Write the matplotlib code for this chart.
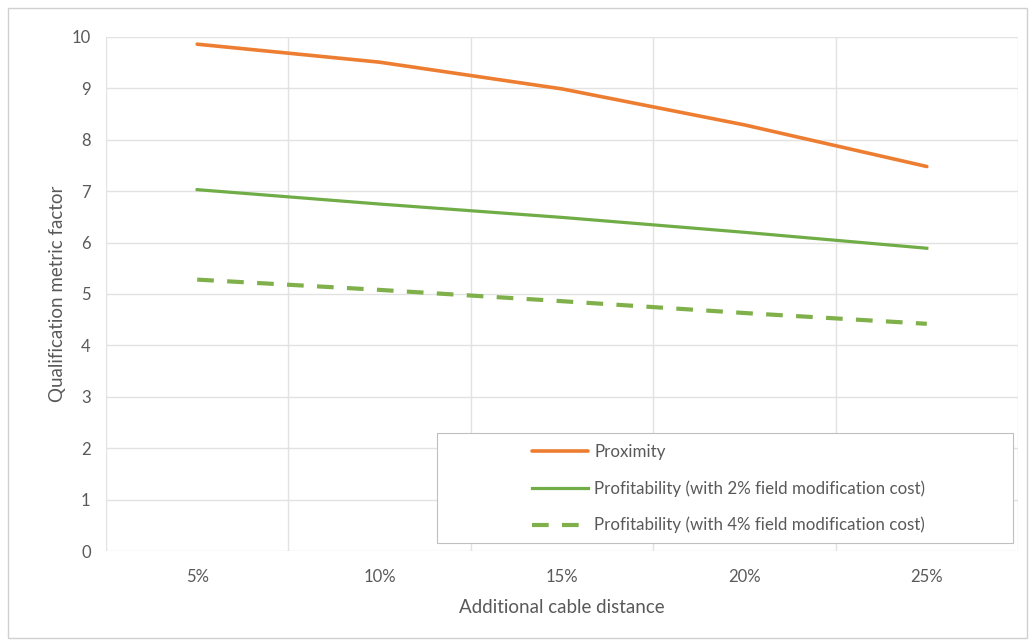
import matplotlib
matplotlib.use("Agg")
import matplotlib.pyplot as plt
from matplotlib.patches import Rectangle
import numpy as np

plt.rcParams['font.family'] = ['Lato', 'DejaVu Sans']

# Datos
categories = ['5%', '10%', '15%', '20%', '25%']
proximity = [9.86, 9.51, 8.99, 8.29, 7.48]
profit_2pct = [7.03, 6.75, 6.49, 6.20, 5.89]
profit_4pct = [5.28, 5.08, 4.86, 4.63, 4.42]
yticks = list(range(0, 11))

text_color = '#595959'
grid_color = '#E2E2E2'

fig = plt.figure(figsize=(10.35, 6.41), dpi=100)
ax = fig.add_axes([0.1024, 0.1404, 0.8812, 0.8019])

x = np.arange(len(categories))

ax.plot(x, proximity, color='#ED7D31', lw=2.6, label='Proximity', solid_capstyle='round')
ax.plot(x, profit_2pct, color='#70AD47', lw=2.3,
        label='Profitability (with 2% field modification cost)')
ax.plot(x, profit_4pct, color='#7FB04A', lw=3.0, dashes=(4, 3.2),
        label='Profitability (with 4% field modification cost)')

ax.set_xlim(-0.5, len(categories) - 0.5)
ax.set_ylim(0, 10)
ax.set_xticks(x)
ax.set_xticklabels(categories)
ax.set_yticks(yticks)

# rejilla: horizontales en cada entero, verticales entre categorías
for yv in yticks:
    ax.axhline(yv, color=grid_color, lw=1, zorder=0)
for xv in np.arange(-0.5, len(categories), 1.0):
    ax.axvline(xv, color=grid_color, lw=1, zorder=0)

for s in ax.spines.values():
    s.set_visible(False)
ax.tick_params(length=0, colors=text_color, labelsize=12, pad=13)
ax.tick_params(axis='y', pad=11)

ax.set_xlabel('Additional cable distance', color=text_color, fontsize=13.5, labelpad=10)
ax.set_ylabel('Qualification metric factor', color=text_color, fontsize=13.5, labelpad=4)

# caja de la leyenda
ax.add_patch(Rectangle((0.363, 0.0156), 0.6315, 0.214, transform=ax.transAxes,
                       facecolor='white', edgecolor='#BFBFBF', lw=0.8, zorder=3))
leg = ax.legend(loc='upper left', bbox_to_anchor=(0.46, 0.222), frameon=False,
                fontsize=12.2, handlelength=3.3, handletextpad=0.35,
                labelspacing=1.2, borderaxespad=0)
leg.set_zorder(4)
for t in leg.get_texts():
    t.set_color(text_color)

# borde exterior de la figura
fig.patches.append(Rectangle((8 / 1035, 1 - 638 / 641), 1019 / 1035, 630 / 641,
                             transform=fig.transFigure, fill=False,
                             edgecolor='#D0D0D0', lw=1))

fig.savefig('out.png', dpi=100)
